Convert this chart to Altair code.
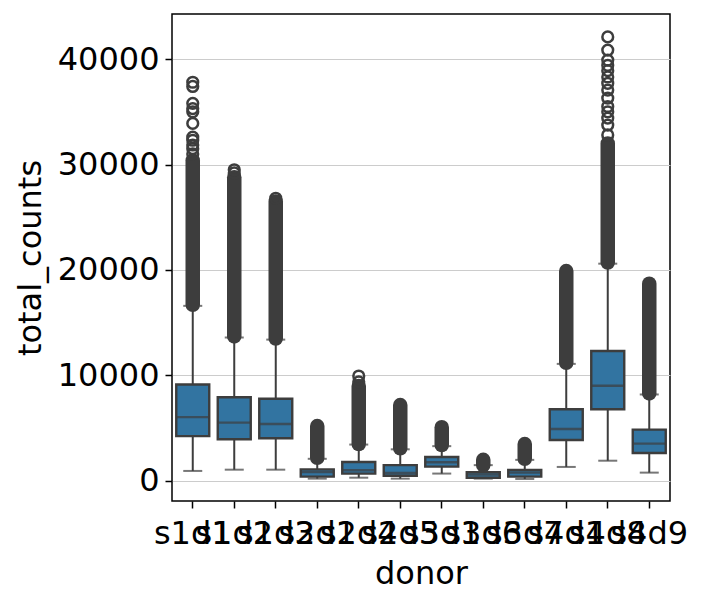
import altair as alt
import pandas as pd

# box statistics
donors = ['s1d1', 's1d2', 's1d3', 's2d1', 's2d4', 's2d5',
          's3d1', 's3d6', 's3d7', 's4d1', 's4d8', 's4d9']
whis_lo = [950, 1070, 1070, 220, 310, 220, 700, 220, 190, 1330, 1920, 790]
q1 = [4250, 3950, 4050, 410, 700, 500, 1360, 300, 410, 3890, 6800, 2650]
median = [6050, 5530, 5400, 850, 1010, 760, 1770, 600, 790, 4930, 9030, 3540]
q3 = [9150, 7930, 7800, 1100, 1800, 1500, 2270, 820, 1040, 6800, 12320, 4870]
whis_hi = [16600, 13600, 13400, 2100, 3450, 3000, 3300, 1500, 2000, 11100, 20600, 8200]

# outliers: the packed part of each column, then the loose circles above it
dense_lo = [16700, 13700, 13500, 2200, 3500, 3100, 3400, 1500, 2100, 11200, 20700, 8300]
dense_hi = [30400, 28800, 26500, 5200, 9000, 7200, 5100, 2000, 3500, 19900, 32000, 18700]
loose_donor = (['s1d1'] * 11 + ['s1d2'] * 2 + ['s1d3'] + ['s2d4'] * 2
               + ['s4d8'] * 14)
loose_value = [31000, 31500, 31850, 32300, 32600, 33900, 35000, 35300, 35800, 37400, 37800,
               29200, 29500,
               26800,
               9400, 9950,
               32800, 33740, 34400, 35000, 35500, 36300, 37060, 37700, 38300, 38900,
               39400, 39900, 40850, 42100]

stats = pd.DataFrame({'donor': donors, 'whis_lo': whis_lo, 'q1': q1, 'median': median,
                      'q3': q3, 'whis_hi': whis_hi, 'dense_lo': dense_lo, 'dense_hi': dense_hi})
loose = pd.DataFrame({'donor': loose_donor, 'total_counts': loose_value})

dark = '#3d3d3d'
blue = '#3274a1'

x = alt.X('donor:N', sort=donors, title='donor',
          scale=alt.Scale(paddingInner=0, paddingOuter=0),
          axis=alt.Axis(labelAngle=0, grid=False, labelOverlap=False, labelBound=False))
yscale = alt.Scale(domain=[-1900, 44270], nice=False, zero=False)
yaxis = alt.Axis(values=[0, 10000, 20000, 30000, 40000], format='d', grid=True,
                 gridColor='#cccccc', gridWidth=1.2)

base = alt.Chart(stats).encode(x=x)

whisker = base.mark_rule(color=dark, strokeWidth=2).encode(
    y=alt.Y('whis_lo:Q', scale=yscale, axis=yaxis, title='total_counts'),
    y2='whis_hi:Q')
cap_lo = base.mark_tick(color=dark, size=19, thickness=2).encode(y='whis_lo:Q')
cap_hi = base.mark_tick(color=dark, size=19, thickness=2).encode(y='whis_hi:Q')
box = base.mark_bar(size=33, fill=blue, stroke=dark, strokeWidth=2.4).encode(
    y='q1:Q', y2='q3:Q')
mid = base.mark_tick(color=dark, size=33, thickness=2.4).encode(y='median:Q')
packed = base.mark_rule(color=dark, strokeWidth=14.5, strokeCap='round').encode(
    y='dense_lo:Q', y2='dense_hi:Q')
points = alt.Chart(loose).mark_point(shape='circle', filled=False, color=dark,
                                     strokeWidth=2.5, size=115, opacity=1).encode(
    x=alt.X('donor:N', sort=donors), y='total_counts:Q')

chart = alt.layer(whisker, cap_lo, cap_hi, packed, box, mid, points).properties(
    width=498, height=487,
    autosize=alt.AutoSizeParams(type='none'),
    padding={'left': 164, 'top': 6, 'right': 20, 'bottom': 90},
).configure_view(
    stroke='black', strokeWidth=1.5
).configure_axis(
    labelFont='DejaVu Sans', titleFont='DejaVu Sans',
    labelFontSize=32, titleFontSize=32, titleFontWeight='normal',
    labelColor='black', titleColor='black',
    tickColor='black', tickSize=7, tickWidth=1.5,
    domain=False, labelPadding=6
).configure_axisY(
    titlePadding=10
).configure_axisX(
    titlePadding=9, labelPadding=10
)

chart.save('out.html', embed_options={'renderer': 'svg', 'actions': False})
